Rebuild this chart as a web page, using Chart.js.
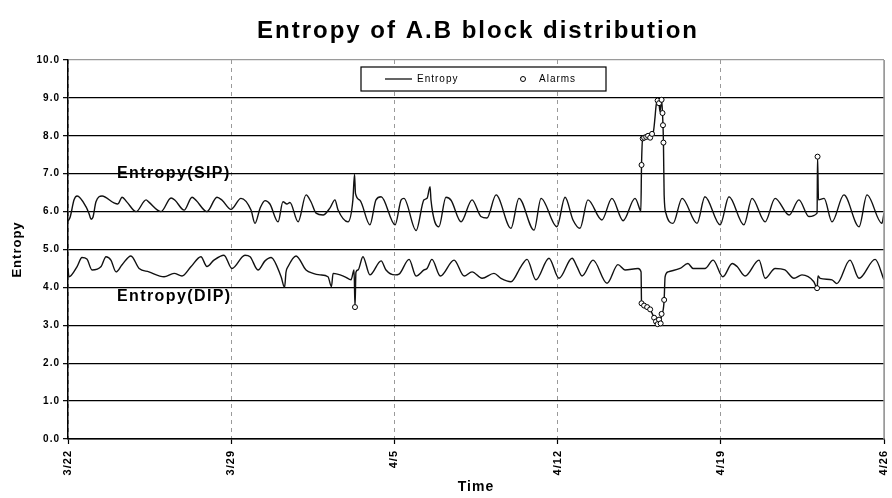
<!DOCTYPE html>
<html><head><meta charset="utf-8">
<script src="https://cdn.jsdelivr.net/npm/chart.js@4.4.0/dist/chart.umd.min.js"></script>
<style>html,body{margin:0;padding:0;background:#fff;}</style>
</head><body>
<canvas id="c" width="892" height="498"></canvas>
<script>
const chartTitle = 'Entropy of A.B block distribution';
const yAxisTitle = 'Entropy';
const xAxisTitle = 'Time';
const xTickLabels = ['3/22','3/29','4/5','4/12','4/19','4/26'];
const seriesNames = ['Entropy', 'Alarms'];
const annotationTexts = ['Entropy(SIP)', 'Entropy(DIP)'];
const annotationDays = [2.1, 2.1];
const annotationValues = [7.0, 3.77];

// Days since 3/22 and entropy values
const sipDays = [0.00,0.09,0.26,0.39,0.77,0.90,0.99,1.07,1.20,1.46,1.97,2.14,2.32,2.53,2.92,3.35,3.47,3.99,4.42,4.59,4.98,5.32,5.49,5.96,6.39,6.61,6.99,7.42,7.85,8.02,8.24,8.45,8.66,9.01,9.22,9.39,9.52,9.87,10.21,10.42,10.64,10.94,11.24,11.45,11.58,12.01,12.22,12.29,12.33,12.52,12.95,13.21,13.43,14.03,14.29,14.41,14.93,15.27,15.40,15.53,15.57,15.91,16.21,16.43,16.86,17.33,17.71,17.97,18.36,19.00,19.34,19.99,20.29,20.97,21.32,21.66,21.96,22.30,22.90,23.33,23.81,24.32,24.54,24.57,24.60,24.65,24.71,24.80,24.88,24.97,25.05,25.11,25.18,25.22,25.29,25.35,25.39,25.46,25.50,25.52,25.54,25.57,25.65,25.95,26.34,26.98,27.32,27.97,28.35,28.99,29.34,29.90,30.33,30.93,31.35,31.78,32.13,32.15,32.19,32.43,32.77,33.28,33.93,34.27,34.91,35.00];
const sipValues = [5.75,5.85,6.31,6.41,6.13,5.95,5.80,5.85,6.26,6.41,6.23,6.20,6.38,6.25,6.00,6.31,6.25,6.00,6.36,6.30,6.04,6.38,6.30,6.00,6.38,6.30,6.06,6.35,6.04,5.69,6.09,6.29,6.20,5.73,6.26,6.20,6.24,5.73,6.44,6.26,5.96,5.91,6.10,6.31,6.05,5.73,6.31,6.99,6.48,6.30,5.65,6.31,6.39,5.65,6.31,6.35,5.50,6.31,6.35,6.66,6.30,5.60,6.38,6.30,5.73,6.31,5.87,5.83,6.44,5.56,6.35,5.51,6.35,5.60,6.38,5.78,5.56,6.31,5.78,6.35,5.76,6.35,6.04,6.00,7.23,7.93,7.95,7.97,8.00,7.95,8.05,8.11,8.50,8.77,8.93,8.86,8.64,8.95,8.60,8.28,7.82,6.44,5.95,5.69,6.35,5.69,6.39,5.65,6.39,5.65,6.35,5.73,6.35,5.91,6.31,5.87,5.96,7.45,6.31,6.35,5.73,6.44,5.60,6.44,5.69,5.96];

const dipDays = [0.00,0.04,0.39,0.60,0.81,1.03,1.42,1.63,1.84,2.06,2.32,2.70,3.05,3.47,4.12,4.55,4.89,5.28,5.70,5.96,6.26,6.69,7.03,7.59,7.81,8.15,8.45,8.71,9.14,9.29,9.35,9.44,9.78,10.21,10.51,10.81,11.15,11.30,11.37,11.88,12.14,12.27,12.31,12.35,12.44,12.65,12.95,13.43,13.64,14.03,14.20,14.63,14.93,15.27,15.40,15.61,15.97,16.56,16.99,17.33,17.76,18.27,18.57,19.00,19.43,19.69,20.07,20.63,21.06,21.62,21.83,22.05,22.52,23.12,23.59,23.89,24.45,24.58,24.60,24.71,24.84,24.97,25.05,25.14,25.22,25.29,25.35,25.42,25.46,25.52,25.57,25.61,25.74,26.25,26.59,26.81,27.32,27.67,28.09,28.49,28.70,29.04,29.64,29.90,30.33,30.75,31.14,31.48,31.99,32.13,32.17,32.26,32.77,32.98,33.54,33.93,34.62,35.00];
const dipValues = [4.50,4.28,4.55,4.79,4.75,4.46,4.55,4.81,4.72,4.41,4.60,4.83,4.50,4.41,4.28,4.37,4.30,4.55,4.81,4.55,4.72,4.85,4.50,4.85,4.81,4.46,4.70,4.79,4.28,4.00,4.40,4.55,4.83,4.46,4.37,4.33,4.28,4.02,4.37,4.28,4.20,4.46,3.48,4.40,4.46,4.81,4.33,4.70,4.46,4.33,4.35,4.74,4.30,4.46,4.50,4.74,4.30,4.72,4.30,4.41,4.24,4.37,4.24,4.15,4.55,4.74,4.20,4.77,4.24,4.77,4.55,4.30,4.72,4.11,4.60,4.46,4.50,4.41,3.58,3.52,3.48,3.42,3.32,3.20,3.10,3.03,3.15,3.05,3.30,3.38,3.67,4.28,4.41,4.50,4.63,4.50,4.50,4.72,4.28,4.63,4.55,4.30,4.72,4.24,4.50,4.46,4.24,4.33,4.15,3.98,4.30,4.24,4.20,4.10,4.72,4.24,4.74,4.20];

const alarmDays = [12.31,24.60,24.65,24.71,24.80,24.88,24.97,25.05,25.29,25.35,25.46,25.50,25.52,25.54,24.60,24.71,24.84,24.97,25.14,25.22,25.29,25.35,25.42,25.46,25.57,32.15,32.13];
const alarmValues = [3.48,7.23,7.93,7.95,7.97,8.00,7.95,8.05,8.93,8.86,8.95,8.60,8.28,7.82,3.58,3.52,3.48,3.42,3.20,3.10,3.03,3.15,3.05,3.30,3.67,7.45,3.98];

const FONT = '"Liberation Sans", Arial, sans-serif';
const zip = (xs, ys) => xs.map((d, i) => ({x: d, y: ys[i]}));

const decor = {
  id: 'decor',
  beforeDraw(chart) {
    const ctx = chart.ctx;
    ctx.save(); ctx.fillStyle = '#fff'; ctx.fillRect(0, 0, chart.width, chart.height); ctx.restore();
    ctx.letterSpacing = '1px';
  },
  beforeDatasetsDraw(chart) {
    chart.ctx.letterSpacing = '0px';
  },
  afterDraw(chart) {
    const {ctx, chartArea: ca, scales: {x, y}} = chart;
    ctx.save();
    // right frame line
    ctx.strokeStyle = '#9a9a9a'; ctx.lineWidth = 1.5;
    ctx.beginPath(); ctx.moveTo(ca.right, ca.top); ctx.lineTo(ca.right, ca.bottom); ctx.stroke();
    // title
    ctx.fillStyle = '#000';
    ctx.font = 'bold 24px ' + FONT;
    ctx.letterSpacing = '2px';
    ctx.textAlign = 'center'; ctx.textBaseline = 'middle';
    ctx.fillText(chartTitle, (ca.left + ca.right) / 2 + 2, 31);
    // series annotations
    ctx.font = 'bold 16px ' + FONT;
    ctx.letterSpacing = '1.4px';
    ctx.textAlign = 'left';
    annotationTexts.forEach((t, i) => {
      ctx.fillText(t, x.getPixelForValue(annotationDays[i]), y.getPixelForValue(annotationValues[i]));
    });
    // legend box
    const lx = ca.left + 293, ly = ca.top + 7, lw = 245, lh = 24;
    ctx.fillStyle = '#fff'; ctx.fillRect(lx, ly, lw, lh);
    ctx.strokeStyle = '#000'; ctx.lineWidth = 1.2; ctx.strokeRect(lx, ly, lw, lh);
    const my = ly + lh / 2;
    ctx.beginPath(); ctx.moveTo(lx + 24, my); ctx.lineTo(lx + 51, my); ctx.lineWidth = 1.3; ctx.strokeStyle = '#111'; ctx.stroke();
    ctx.fillStyle = '#000'; ctx.font = '10px ' + FONT; ctx.letterSpacing = '1px';
    ctx.fillText(seriesNames[0], lx + 56, my);
    ctx.beginPath(); ctx.arc(lx + 162, my, 2.5, 0, Math.PI * 2); ctx.fillStyle = '#fff'; ctx.fill(); ctx.lineWidth = 1; ctx.strokeStyle = '#000'; ctx.stroke();
    ctx.fillStyle = '#000';
    ctx.fillText(seriesNames[1], lx + 178, my);
    ctx.restore();
  }
};

new Chart(document.getElementById('c'), {
  type: 'line',
  data: {
    datasets: [
      {label: 'SIP', data: zip(sipDays, sipValues), borderColor: '#111', borderWidth: 1.4, pointRadius: 0, cubicInterpolationMode: 'monotone', order: 2},
      {label: 'DIP', data: zip(dipDays, dipValues), borderColor: '#111', borderWidth: 1.4, pointRadius: 0, cubicInterpolationMode: 'monotone', order: 2},
      {label: 'Alarms', data: zip(alarmDays, alarmValues), showLine: false, pointRadius: 2.5, pointStyle: 'circle',
       pointBackgroundColor: '#fff', pointBorderColor: '#000', pointBorderWidth: 1, order: 1}
    ]
  },
  options: {
    responsive: false, animation: false, events: [],
    layout: {padding: {top: 60, right: 8, left: 0, bottom: 0}},
    plugins: {legend: {display: false}, tooltip: {enabled: false}, title: {display: false}},
    scales: {
      x: {
        type: 'linear', min: 0, max: 35,
        afterFit: s => { s.height = 59; s.paddingLeft = 0; s.paddingRight = 0; },
        ticks: {stepSize: 7, autoSkip: false, maxRotation: 90, minRotation: 90, color: '#000', padding: 6,
                font: {family: FONT, size: 11, weight: 'bold'},
                callback: v => xTickLabels[Math.round(v / 7)]},
        grid: {color: '#9a9a9a', lineWidth: 1, tickColor: '#000', tickLength: 5, tickWidth: 1.2},
        border: {display: true, color: '#000', width: 1.5, dash: ctx => (ctx.tick && ctx.tick.value === 35) ? [] : [4, 4]},
        title: {display: true, text: xAxisTitle, color: '#000', font: {family: FONT, size: 14, weight: 'bold'}, padding: {top: 0, bottom: 2}}
      },
      y: {
        min: 0, max: 10,
        afterFit: s => { s.width = 68; s.paddingTop = 0; s.paddingBottom = 0; },
        ticks: {stepSize: 1, color: '#000', padding: 3, font: {family: FONT, size: 10, weight: 'bold'},
                callback: v => v.toFixed(1)},
        grid: {color: ctx => (ctx.tick && ctx.tick.value === 10) ? '#9a9a9a' : '#000', lineWidth: 1.3, tickColor: '#000', tickLength: 5, tickWidth: 1.2},
        border: {display: true, color: '#000', width: 1.5},
        title: {display: true, text: yAxisTitle, color: '#000', font: {family: FONT, size: 13, weight: 'bold'}, padding: {top: 10, bottom: 0}}
      }
    }
  },
  plugins: [decor]
});
</script>
</body></html>
